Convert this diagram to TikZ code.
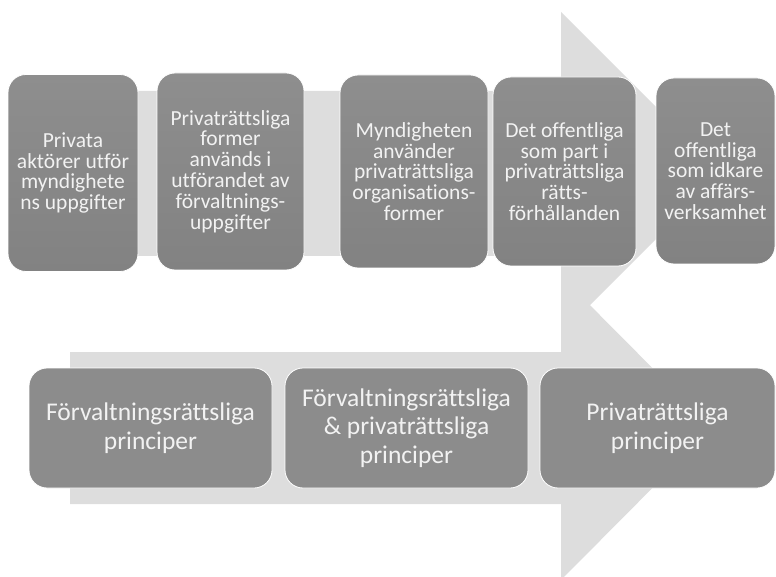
\documentclass[tikz,border=0pt]{standalone}
\usepackage{fontspec}
\setmainfont{Carlito}[Ligatures={NoCommon,NoContextual}]
\definecolor{arrowgray}{HTML}{DDDDDD}
\definecolor{boxtop}{HTML}{8E8E8E}
\definecolor{boxbot}{HTML}{828282}
\definecolor{boxflat}{HTML}{8C8C8C}
\definecolor{boxtext}{HTML}{F2F2F2}
\begin{document}
\begin{tikzpicture}[x=1pt,y=-1pt,
  topbox/.style={draw=white, line width=0.8pt, rounded corners=18pt,
    top color=boxtop, bottom color=boxbot, text=boxtext, align=center,
    inner sep=0pt, font=\fontsize{21.5}{20.8}\selectfont},
  botbox/.style={draw=white, line width=0.8pt, rounded corners=18pt,
    fill=boxflat, text=boxtext, align=center, inner sep=0pt,
    minimum width=243pt, minimum height=120pt,
    font=\fontsize{25.5}{28.5}\selectfont}]
\useasboundingbox (0,0) rectangle (776,577);
\begin{scope}
\clip (0,0) rectangle (776,577);
% top arrow
\fill[arrowgray] (20,91) -- (561,91) -- (561,12) -- (722,173) -- (561,334)
  -- (561,256) -- (20,256) -- cycle;
% bottom arrow
\fill[arrowgray] (70,352) -- (561,352) -- (561,276) -- (712,428) -- (561,580)
  -- (561,504) -- (70,504) -- cycle;
\end{scope}
% top row
\node[topbox, minimum width=130pt, minimum height=197pt] (t1) at (73,173)
  {Privata\\aktörer utför\\myndighete\\ns uppgifter};
\node[topbox, minimum width=147pt, minimum height=197pt] (t2) at (230.5,171.5)
  {Privaträttsliga\\former\\används i\\utförandet av\\förvaltnings-\\uppgifter};
\node[topbox, minimum width=148pt, minimum height=193pt] (t3) at (414,171.5)
  {Myndigheten\\använder\\privaträttsliga\\organisations-\\former};
\node[topbox, minimum width=143pt, minimum height=189pt] (t4) at (564.5,171.5)
  {Det offentliga\\som part i\\privaträttsliga\\rätts-\\förhållanden};
\node[topbox, minimum width=119pt, minimum height=186pt] (t5) at (715.5,171)
  {Det\\offentliga\\som idkare\\av affärs-\\verksamhet};
% bottom row
\node[botbox] (b1) at (150.5,428) {Förvaltningsrättsliga\\principer};
\node[botbox] (b2) at (406.5,428) {Förvaltningsrättsliga\\\& privaträttsliga\\principer};
\node[botbox, minimum width=235pt] (b3) at (657.5,428) {Privaträttsliga\\principer};
\end{tikzpicture}
\end{document}
